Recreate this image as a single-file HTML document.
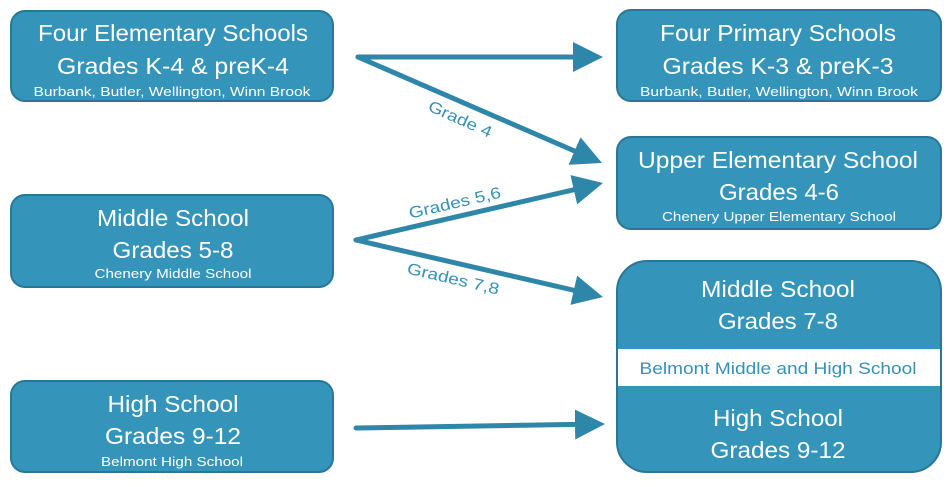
<!DOCTYPE html>
<html><head><meta charset="utf-8"><style>
html,body{margin:0;padding:0;background:#fff;width:949px;height:487px;overflow:hidden}
svg{display:block}
text{font-family:"Liberation Sans",sans-serif;fill:#fff;text-anchor:middle}
.t{font-size:23px}
.s{font-size:13px}
.l{fill:#3591b8;font-size:16px}
</style></head><body>
<svg width="949" height="487" viewBox="0 0 949 487">
<defs>
<marker id="ah" markerUnits="userSpaceOnUse" markerWidth="32" markerHeight="32" refX="10" refY="15" orient="auto">
<path d="M0,0 L30,15 L0,30 z" fill="#2e86a8"/>
</marker>
</defs>
<g fill="#3494ba" stroke="#2a7696" stroke-width="2">
<rect x="11" y="11" width="322" height="90" rx="14"/>
<rect x="11" y="195" width="322" height="92" rx="14"/>
<rect x="11" y="381" width="322" height="91" rx="14"/>
<rect x="617" y="10" width="324" height="91" rx="14"/>
<rect x="617" y="137" width="324" height="92" rx="14"/>
<rect x="617" y="261" width="324" height="211" rx="30"/>
</g>
<rect x="618" y="349" width="322" height="37" fill="#fff"/>
<g stroke="#2e86a8" stroke-width="5" stroke-linecap="round" fill="none" marker-end="url(#ah)">
<line x1="358" y1="57" x2="583" y2="57"/>
<line x1="358" y1="57" x2="583.7" y2="155"/>
<line x1="356" y1="240" x2="583.5" y2="187.5"/>
<line x1="356" y1="240" x2="583.5" y2="292.5"/>
<line x1="356" y1="428" x2="585" y2="424.3"/>
</g>
<text class="t" x="173" y="41" textLength="270" lengthAdjust="spacingAndGlyphs">Four Elementary Schools</text>
<text class="t" x="173" y="74" textLength="232" lengthAdjust="spacingAndGlyphs">Grades K-4 &amp; preK-4</text>
<text class="s" x="172" y="96" textLength="277" lengthAdjust="spacingAndGlyphs">Burbank, Butler, Wellington, Winn Brook</text>
<text class="t" x="173" y="226" textLength="152" lengthAdjust="spacingAndGlyphs">Middle School</text>
<text class="t" x="173" y="258" textLength="121" lengthAdjust="spacingAndGlyphs">Grades 5-8</text>
<text class="s" x="173" y="278" textLength="157" lengthAdjust="spacingAndGlyphs">Chenery Middle School</text>
<text class="t" x="173" y="412" textLength="131" lengthAdjust="spacingAndGlyphs">High School</text>
<text class="t" x="173" y="444" textLength="136" lengthAdjust="spacingAndGlyphs">Grades 9-12</text>
<text class="s" x="172" y="466" textLength="142" lengthAdjust="spacingAndGlyphs">Belmont High School</text>
<text class="t" x="778" y="41" textLength="236" lengthAdjust="spacingAndGlyphs">Four Primary Schools</text>
<text class="t" x="778" y="74" textLength="231" lengthAdjust="spacingAndGlyphs">Grades K-3 &amp; preK-3</text>
<text class="s" x="779" y="96" textLength="278" lengthAdjust="spacingAndGlyphs">Burbank, Butler, Wellington, Winn Brook</text>
<text class="t" x="778" y="168" textLength="280" lengthAdjust="spacingAndGlyphs">Upper Elementary School</text>
<text class="t" x="779" y="200" textLength="120" lengthAdjust="spacingAndGlyphs">Grades 4-6</text>
<text class="s" x="779" y="221" textLength="234" lengthAdjust="spacingAndGlyphs">Chenery Upper Elementary School</text>
<text class="t" x="778" y="297" textLength="154" lengthAdjust="spacingAndGlyphs">Middle School</text>
<text class="t" x="778" y="329" textLength="120" lengthAdjust="spacingAndGlyphs">Grades 7-8</text>
<text x="778" y="374" style="fill:#3591b8;font-size:17px" textLength="277" lengthAdjust="spacingAndGlyphs">Belmont Middle and High School</text>
<text class="t" x="778" y="426" textLength="130" lengthAdjust="spacingAndGlyphs">High School</text>
<text class="t" x="778" y="458" textLength="135" lengthAdjust="spacingAndGlyphs">Grades 9-12</text>
<text class="l" transform="translate(458,124) rotate(24)" textLength="68" lengthAdjust="spacingAndGlyphs">Grade 4</text>
<text class="l" transform="translate(456,208) rotate(-13)" textLength="94" lengthAdjust="spacingAndGlyphs">Grades 5,6</text>
<text class="l" transform="translate(452,284) rotate(13)" textLength="94" lengthAdjust="spacingAndGlyphs">Grades 7,8</text>
</svg>
</body></html>
